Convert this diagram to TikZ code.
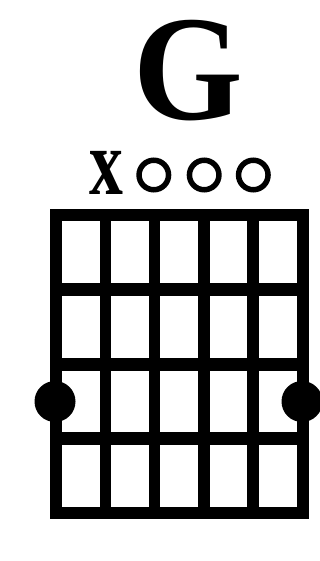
\documentclass[tikz,border=0pt]{standalone}
\usepackage{fontspec}
\setmainfont{Liberation Serif}
\begin{document}
\begin{tikzpicture}[x=1pt,y=-1pt,
  fretline/.style={line width=13pt},
  stringline/.style={line width=11.5pt},
  openmark/.style={circle,draw,line width=5.5pt,minimum size=29.5pt,inner sep=0pt},
  fingerdot/.style={circle,fill=black,minimum size=41pt,inner sep=0pt}]
\useasboundingbox (0,0) rectangle (320,561);
% title
\node[anchor=base,inner sep=0pt] (title) at (188,120)
  {\scalebox{0.94}[1]{\fontsize{150}{150}\selectfont\bfseries G}};
% string marks
\node[anchor=base,inner sep=0pt] (mute) at (106.5,195)
  {\scalebox{0.72}[1]{\fontsize{94}{94}\selectfont\bfseries x}};
\node[openmark] (o3) at (153.8,175) {};
\node[openmark] (o4) at (204.2,175) {};
\node[openmark] (o5) at (253.3,175) {};
% grid
\foreach \i in {1,2,3,4} {
  \draw[stringline] ({56+\i*49.3},215) -- ({56+\i*49.3},513);
}
\foreach \j in {1,2,3} {
  \draw[fretline] (56,{215+\j*74.5}) -- (302.5,{215+\j*74.5});
}
\draw[line width=12pt,line join=miter] (56,215) rectangle (302.5,513);
% finger dots
\node[fingerdot] (d1) at (55,401.5) {};
\node[fingerdot] (d6) at (302,401.5) {};
\end{tikzpicture}
\end{document}
